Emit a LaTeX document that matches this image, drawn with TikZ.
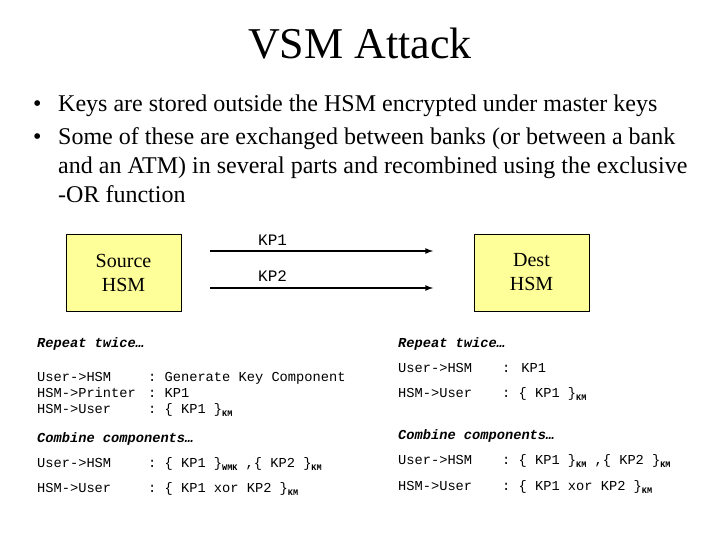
\documentclass[tikz,border=0pt]{standalone}
\usepackage{fontspec}
\setmainfont{Liberation Serif}
\setmonofont{Liberation Mono}
\usetikzlibrary{arrows,positioning}
\definecolor{hsmfill}{HTML}{FFFF99}
\newcommand{\keysub}[1]{\raisebox{-3.5pt}{\fontsize{8.5}{9}\selectfont\bfseries #1}}

\begin{document}
\begin{tikzpicture}[x=1pt, y=-1pt, >=latex,
    title/.style={anchor=base, inner sep=0pt, font=\fontsize{44}{48}\selectfont},
    bullet/.style={anchor=base west, inner sep=0pt, font=\fontsize{24}{29}\selectfont},
    hsm/.style={rectangle, draw, fill=hsmfill, minimum width=115pt, minimum height=77pt, align=center, font=\fontsize{20}{24}\selectfont},
    keylabel/.style={anchor=base west, inner sep=0pt, font=\ttfamily\fontsize{16}{18}\selectfont},
    msg/.style={anchor=base west, inner sep=0pt, font=\ttfamily\fontsize{13.7}{16}\selectfont},
    head/.style={anchor=base west, inner sep=0pt, font=\ttfamily\bfseries\itshape\fontsize{13.7}{16}\selectfont},
    line/.style={draw, ->, line width=1.6pt}]

    \useasboundingbox (0,0) rectangle (720,540);

    \node [title] (title) at (360,59) {VSM Attack};

    \node [bullet] (dot1) at (33,112) {•};
    \node [bullet] (item1) at (58,112) {Keys are stored outside the HSM encrypted under master keys};
    \node [bullet] (dot2) at (33,145) {•};
    \node [bullet] (item2a) at (58,145) {Some of these are exchanged between banks (or between a bank};
    \node [bullet] (item2b) at (58,174) {and an ATM) in several parts and recombined using the exclusive};
    \node [bullet] (item2c) at (58,203) {-OR function};

    \node [hsm] (source) at (123.5,272.5) {Source\\HSM};
    \node [hsm] (dest) at (531.5,272.5) {Dest\\HSM};

    \coordinate (kp1from) at (210,251);
    \coordinate (kp1to) at (433,251);
    \coordinate (kp2from) at (210,288);
    \coordinate (kp2to) at (433,288);
    \path [line] (kp1from) -- (kp1to);
    \path [line] (kp2from) -- (kp2to);
    \node [keylabel] (kp1) at (258,245) {KP1};
    \node [keylabel] (kp2) at (258,281) {KP2};

    \node [head] (srcrepeat) at (37,347) {Repeat twice…};
    \node [msg] (srcgen) at (37,381) {User->HSM};
    \node [msg] (srcgenmsg) at (148,381) {: Generate Key Component};
    \node [msg] (srcprint) at (37,397) {HSM->Printer};
    \node [msg] (srcprintmsg) at (148,397) {: KP1};
    \node [msg] (srcback) at (37,413) {HSM->User};
    \node [msg] (srcbackmsg) at (148,413) {: \{ KP1 \}\keysub{KM}};
    \node [head] (srccombine) at (37,442) {Combine components…};
    \node [msg] (srcsend) at (37,467) {User->HSM};
    \node [msg] (srcsendmsg) at (148,467) {: \{ KP1 \}\keysub{WMK} ,\{ KP2 \}\keysub{KM}};
    \node [msg] (srcxor) at (37,492) {HSM->User};
    \node [msg] (srcxormsg) at (148,492) {: \{ KP1 xor KP2 \}\keysub{KM}};

    \node [head] (dstrepeat) at (398,347) {Repeat twice…};
    \node [msg] (dstin) at (398,372) {User->HSM};
    \node [msg] (dstinmsg) at (502,372) {:\hspace{11pt}KP1};
    \node [msg] (dstback) at (398,397) {HSM->User};
    \node [msg] (dstbackmsg) at (502,397) {: \{ KP1 \}\keysub{KM}};
    \node [head] (dstcombine) at (398,439) {Combine components…};
    \node [msg] (dstsend) at (398,464) {User->HSM};
    \node [msg] (dstsendmsg) at (502,464) {: \{ KP1 \}\keysub{KM} ,\{ KP2 \}\keysub{KM}};
    \node [msg] (dstxor) at (398,490) {HSM->User};
    \node [msg] (dstxormsg) at (502,490) {: \{ KP1 xor KP2 \}\keysub{KM}};
\end{tikzpicture}
\end{document}
